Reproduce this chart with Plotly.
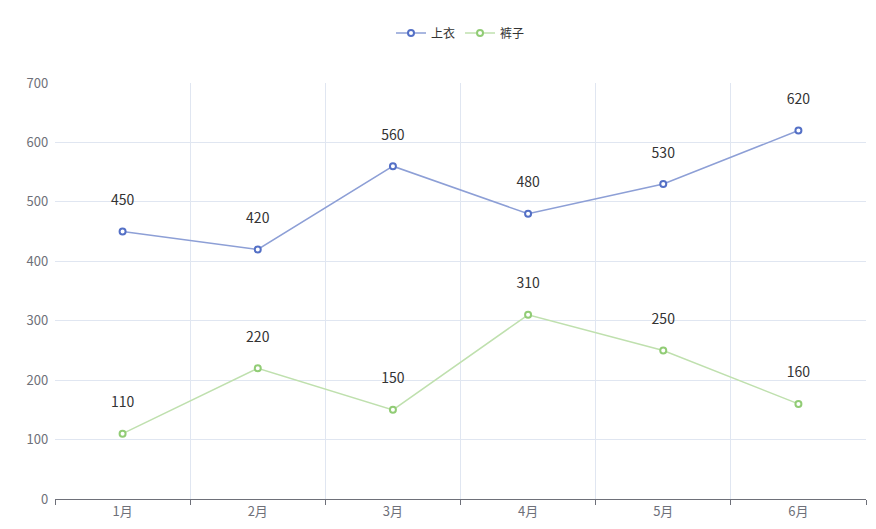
import plotly.graph_objects as go

months = ["1月", "2月", "3月", "4月", "5月", "6月"]
tops = [450, 420, 560, 480, 530, 620]
pants = [110, 220, 150, 310, 250, 160]

fig = go.Figure()
for name, vals, c, lc in [("上衣", tops, "#5470c6", "#8d9fd6"), ("裤子", pants, "#91cc75", "#bfe0ae")]:
    fig.add_trace(go.Scatter(
        x=list(range(len(months))), y=vals, name=name, mode="lines+markers+text",
        text=[str(v) + "<br> " for v in vals], textposition="top center",
        textfont=dict(size=14, color="#333"),
        line=dict(color=lc, width=1.5),
        marker=dict(symbol="circle", size=6, color="white", line=dict(color=c, width=2)),
        cliponaxis=False,
    ))

fig.update_layout(
    width=876, height=529, paper_bgcolor="white", plot_bgcolor="white",
    margin=dict(l=47, r=18, t=75, b=38, autoexpand=False),
    font=dict(family="Microsoft YaHei, Noto Sans CJK SC, sans-serif", color="#6e7079", size=12),
    legend=dict(orientation="h", x=0.5, xanchor="center", y=1.155, yanchor="top",
                font=dict(color="#333", size=12)),
    showlegend=True,
)
fig.update_xaxes(range=[-0.5, 5.5], tickvals=list(range(6)), ticktext=months, showgrid=False,
                 ticks="", showline=True, linecolor="#6e7079", zeroline=False, automargin=False,
                 tickfont=dict(size=13), mirror=False,
                 minor=dict(tick0=-0.5, dtick=1, showgrid=True, gridcolor="#e0e6f1",
                            ticks="outside", ticklen=5, tickcolor="#6e7079"))
fig.update_yaxes(range=[0, 700], dtick=100, gridcolor="#e0e6f1", zeroline=False, automargin=False,
                 showline=False, tickfont=dict(size=13), ticksuffix="  ")
fig.write_html("out.html")
